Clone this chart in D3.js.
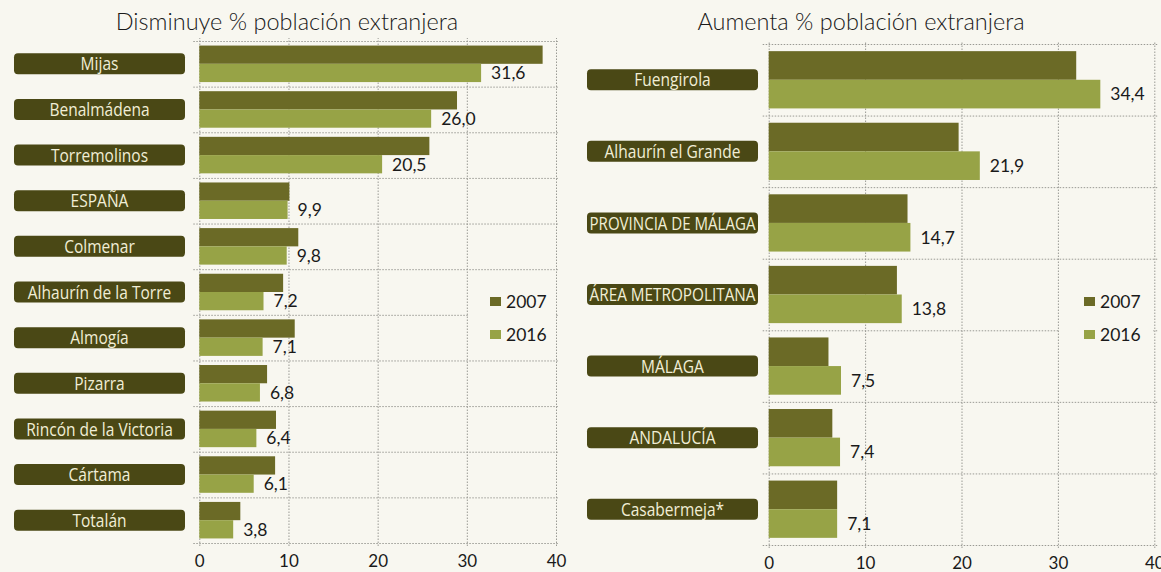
<!DOCTYPE html>
<html>
<head>
<meta charset="utf-8">
<script src="https://cdn.jsdelivr.net/npm/d3@7"></script>
<style>
  body { margin: 0; background: #f8f7f0; }
  svg { display: block; }
  .grid line { stroke: #9a9a94; stroke-dasharray: 1.5 1.5; }
</style>
</head>
<body>
<svg id="chart" width="1161" height="572"></svg>
<script>
// datos
const years = ["2007", "2016"];
const leftCategories = ["Mijas", "Benalmádena", "Torremolinos", "ESPAÑA", "Colmenar",
  "Alhaurín de la Torre", "Almogía", "Pizarra", "Rincón de la Victoria", "Cártama", "Totalán"];
const left2007 = [38.5, 28.9, 25.8, 10.1, 11.1, 9.4, 10.7, 7.6, 8.6, 8.5, 4.6];
const left2016 = [31.6, 26.0, 20.5, 9.9, 9.8, 7.2, 7.1, 6.8, 6.4, 6.1, 3.8];
const rightCategories = ["Fuengirola", "Alhaurín el Grande", "PROVINCIA DE MÁLAGA",
  "ÁREA METROPOLITANA", "MÁLAGA", "ANDALUCÍA", "Casabermeja*"];
const right2007 = [31.9, 19.7, 14.4, 13.3, 6.2, 6.6, 7.1];
const right2016 = [34.4, 21.9, 14.7, 13.8, 7.5, 7.4, 7.1];
const xTicks = [0, 10, 20, 30, 40];

const colors = { "2007": "#6b6a26", "2016": "#97a346" };
const boxColor = "#4a4815";
const numFmt = v => v.toFixed(1).replace(".", ",");

const svg = d3.select("#chart");

function drawPanel(o) {
  const g = svg.append("g");
  const x = d3.scaleLinear().domain([0, 40]).range(o.xRange);
  const y = d3.scaleBand().domain(o.categories).range(o.yRange).padding(0);
  const yy = d3.scaleBand().domain(years).range([0, y.bandwidth()]).paddingOuter(0.25);
  const [top, bottom] = o.yRange;

  // título
  g.append("text")
    .attr("x", o.titleX).attr("y", 30)
    .attr("text-anchor", "middle")
    .attr("font-family", "Lato, sans-serif").attr("font-weight", 300)
    .attr("font-size", 23.5).attr("fill", "#1a1a1a")
    .text(o.title);

  // líneas horizontales
  const hGrid = g.append("g").attr("class", "grid");
  hGrid.selectAll("line")
    .data(o.categories.map(c => y(c)).concat([bottom]))
    .join("line")
    .attr("x1", o.xRange[0] - 6).attr("x2", o.xRange[1] + 3)
    .attr("y1", d => d + 0.5).attr("y2", d => d + 0.5);

  // fondo de la leyenda tapa la rejilla horizontal
  g.append("rect")
    .attr("x", x(30) + 1).attr("y", o.legendY - 8)
    .attr("width", x(40) - x(30) - 2).attr("height", 55)
    .attr("fill", "#f8f7f0");

  // rejilla vertical + etiquetas del eje
  g.append("g").attr("class", "grid")
    .attr("transform", `translate(0,${bottom + 3})`)
    .call(d3.axisBottom(x).tickValues(xTicks).tickSize(-(bottom - top + 6)).tickFormat(""))
    .call(s => s.select(".domain").remove())
    .call(s => s.selectAll(".tick line").attr("stroke", null));

  g.append("g")
    .attr("transform", `translate(0,${bottom + 8})`)
    .call(d3.axisBottom(x).tickValues(xTicks).tickSize(0).tickPadding(4))
    .call(s => s.select(".domain").remove())
    .call(s => s.selectAll("text")
      .attr("font-family", "Lato, sans-serif").attr("font-size", 17).attr("fill", "#1a1a1a"));

  // barras
  const rows = g.append("g").selectAll("g")
    .data(o.categories.map((c, i) => ({ c, v: { "2007": o.v2007[i], "2016": o.v2016[i] } })))
    .join("g")
    .attr("transform", d => `translate(0,${y(d.c)})`);

  rows.selectAll("rect")
    .data(d => years.map(k => ({ k, v: d.v[k] })))
    .join("rect")
    .attr("x", x(0))
    .attr("y", d => yy(d.k))
    .attr("width", d => x(d.v) - x(0))
    .attr("height", yy.bandwidth())
    .attr("fill", d => colors[d.k]);

  rows.append("text")
    .attr("x", d => x(d.v["2016"]) + 10)
    .attr("y", yy("2016") + yy.bandwidth() / 2)
    .attr("dy", "0.36em")
    .attr("font-family", "Lato, sans-serif").attr("font-size", 17.5).attr("fill", "#1a1a1a")
    .text(d => numFmt(d.v["2016"]));

  // etiquetas de categoría
  rows.append("rect")
    .attr("x", o.boxX[0]).attr("width", o.boxX[1] - o.boxX[0])
    .attr("y", y.bandwidth() / 2 - 10.5).attr("height", 21)
    .attr("rx", 4).attr("fill", boxColor);

  // texto estrecho: se comprime en horizontal
  const cx = (o.boxX[0] + o.boxX[1]) / 2;
  const maxW = o.boxX[1] - o.boxX[0] - 5;
  rows.append("text")
    .attr("transform", `translate(${cx},${y.bandwidth() / 2}) scale(0.84,1)`)
    .attr("dy", "0.36em")
    .attr("text-anchor", "middle")
    .attr("font-family", "'Open Sans', sans-serif")
    .attr("font-size", 18.5).attr("fill", "#f1eed6")
    .text(d => d.c)
    .each(function() {
      const w = this.getComputedTextLength() * 0.84;
      if (w > maxW) d3.select(this).attr("textLength", maxW / 0.84).attr("lengthAdjust", "spacingAndGlyphs");
    });

  // leyenda
  const leg = g.append("g").selectAll("g")
    .data(years).join("g")
    .attr("transform", (d, i) => `translate(${o.legendX},${o.legendY + i * 33})`);
  leg.append("rect").attr("width", 11).attr("height", 9).attr("fill", d => colors[d]);
  leg.append("text")
    .attr("x", 16).attr("y", 4.5).attr("dy", "0.36em")
    .attr("font-family", "Lato, sans-serif").attr("font-size", 17.5).attr("fill", "#1a1a1a")
    .text(d => d);
}

drawPanel({
  title: "Disminuye % población extranjera", titleX: 287,
  categories: leftCategories, v2007: left2007, v2016: left2016,
  xRange: [199.3, 556], yRange: [41, 543], boxX: [14, 185],
  legendX: 490, legendY: 297
});

drawPanel({
  title: "Aumenta % población extranjera", titleX: 861,
  categories: rightCategories, v2007: right2007, v2016: right2016,
  xRange: [768.7, 1154.3], yRange: [44, 545], boxX: [587, 758],
  legendX: 1084, legendY: 297
});
</script>
</body>
</html>
